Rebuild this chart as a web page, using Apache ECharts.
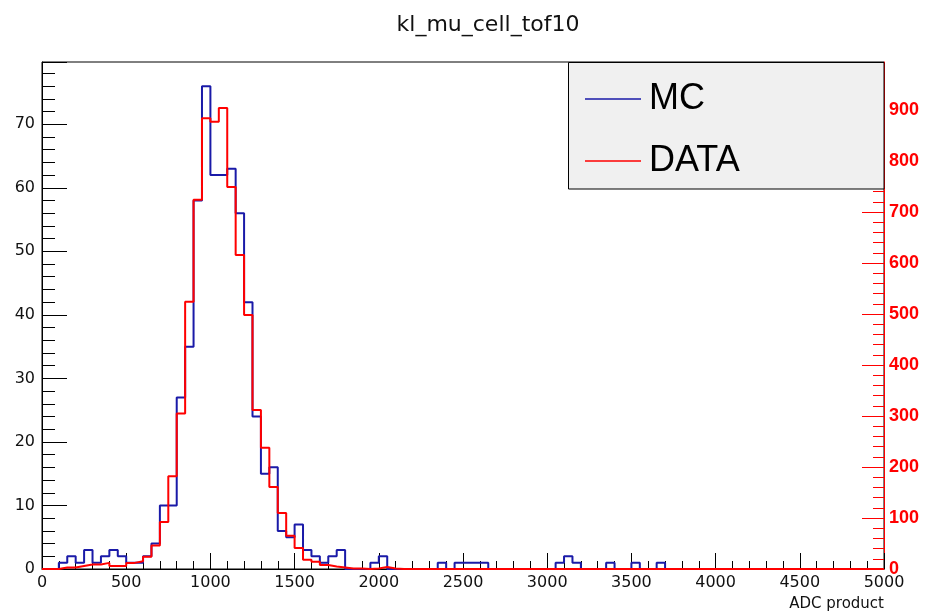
<!DOCTYPE html>
<html><head><meta charset="utf-8">
<script src="https://cdn.jsdelivr.net/npm/echarts@6/dist/echarts.min.js"></script>
<style>html,body{margin:0;padding:0;background:#fff}#c{width:931px;height:616px}</style>
</head><body><div id="c"></div>
<script>
// Histogram: 100 bins of width 50 over [0, 5000]
const binWidth = 50;
const mcCounts = [
  0,0,1,2,1,3,1,2,3,2,
  1,1,2,4,10,10,27,35,58,76,
  62,62,63,56,42,24,15,16,6,5,
  7,3,2,1,2,3,0,0,0,1,
  2,0,0,0,0,0,0,1,0,1,
  1,1,1,0,0,0,0,0,0,0,
  0,1,2,1,0,0,0,1,0,0,
  1,0,0,1,0,0,0,0,0,0,
  0,0,0,0,0,0,0,0,0,0,
  0,0,0,0,0,0,0,0,0,0
];
const dataCounts = [
  0,0,3,3,6,9,9,12,6,6,
  12,15,24,46,92,182,305,524,724,884,
  877,904,749,616,498,312,238,161,110,65,
  41,18,14,8,5,3,1,1,0,1,
  4,1,0,0,0,0,0,0,0,0,
  0,0,0,0,0,0,0,0,0,0,
  0,0,0,0,0,0,0,0,0,0,
  0,0,0,0,0,0,0,0,0,0,
  0,0,0,0,0,0,0,0,0,0,
  0,0,0,0,0,0,0,0,0,0
];
const seriesNames = ['MC', 'DATA'];
const titleText = 'kl_mu_cell_tof10';
const xTitle = 'ADC product';
const leftMax = 79.8;    // 1.05 * MC max
const rightMax = 994.4;  // 1.1 * DATA max

function steps(vals) {
  const pts = vals.map((v, i) => [i * binWidth, v]);
  pts.push([vals.length * binWidth, vals[vals.length - 1]]);
  return pts;
}

const chart = echarts.init(document.getElementById('c'), null, {renderer: 'canvas'});
const axFont = 'DejaVu Sans';
chart.setOption({
  animation: false,
  backgroundColor: '#fff',
  title: {
    text: titleText, left: 483, top: 9, textAlign: 'center',
    textStyle: {fontFamily: axFont, fontSize: 22, fontWeight: 'normal', color: '#111'}
  },
  grid: {left: 42, right: 47, top: 62, bottom: 47, show: true, borderColor: '#000', borderWidth: 1, backgroundColor: 'transparent'},
  legend: {
    orient: 'vertical', left: 580, top: 76, itemWidth: 56, itemHeight: 1.5, itemGap: 26, z: 20,
    textStyle: {fontSize: 36, fontFamily: 'Liberation Sans', color: '#000', padding: [0, 0, 0, 3]},
    data: [{name: seriesNames[0], icon: 'rect'}, {name: seriesNames[1], icon: 'rect'}]
  },
  graphic: [
    {type: 'rect', z: 15, shape: {x: 568.5, y: 62.5, width: 315.5, height: 126.5},
     style: {fill: '#f0f0f0', stroke: '#000', lineWidth: 1}},
    {type: 'text', z: 15, x: 884, y: 604,
     style: {text: xTitle, textAlign: 'right', align: 'right', textVerticalAlign: 'middle', verticalAlign: 'middle',
             font: '15px "DejaVu Sans"', fill: '#111'}}
  ],
  xAxis: {
    type: 'value', min: 0, max: 5000, interval: 500,
    axisLine: {show: true, lineStyle: {color: '#000', width: 1}},
    axisTick: {show: true, inside: true, length: 16, lineStyle: {color: '#000'}},
    minorTick: {show: true, splitNumber: 5, length: 8, lineStyle: {color: '#000'}},
    splitLine: {show: false},
    axisLabel: {color: '#111', fontSize: 16, fontFamily: axFont, margin: 6, formatter: v => String(v)}
  },
  yAxis: [
    {
      type: 'value', position: 'left', min: 0, max: leftMax, interval: 10,
      axisLine: {show: true, lineStyle: {color: '#000', width: 1}},
      axisTick: {show: true, inside: true, length: 25, lineStyle: {color: '#000'}},
      minorTick: {show: true, splitNumber: 5, length: 13, lineStyle: {color: '#000'}},
      splitLine: {show: false},
      axisLabel: {color: '#111', fontSize: 16, fontFamily: axFont, margin: 7, showMaxLabel: false,
        formatter: v => (v % 10 === 0 ? String(v) : '')}
    },
    {
      type: 'value', position: 'right', min: 0, max: rightMax, interval: 100,
      axisLine: {show: true, lineStyle: {color: '#ff0000', width: 1}},
      axisTick: {show: true, inside: true, length: 22, lineStyle: {color: '#ff0000'}},
      minorTick: {show: true, splitNumber: 5, length: 11, lineStyle: {color: '#ff0000'}},
      splitLine: {show: false},
      axisLabel: {color: '#ff0000', fontSize: 18, fontWeight: 'bold', fontFamily: 'Liberation Sans', margin: 5, showMaxLabel: false,
        formatter: v => (v % 100 === 0 ? String(v) : '')}
    }
  ],
  series: [
    {name: seriesNames[0], type: 'line', step: 'end', yAxisIndex: 0, symbol: 'none', z: 3,
     data: steps(mcCounts), lineStyle: {color: '#1a1aa8', width: 2}, itemStyle: {color: '#1a1aa8'}},
    {name: seriesNames[1], type: 'line', step: 'end', yAxisIndex: 1, symbol: 'none', z: 4,
     data: steps(dataCounts), lineStyle: {color: '#ff0000', width: 2}, itemStyle: {color: '#ff0000'}}
  ]
});
</script></body></html>
